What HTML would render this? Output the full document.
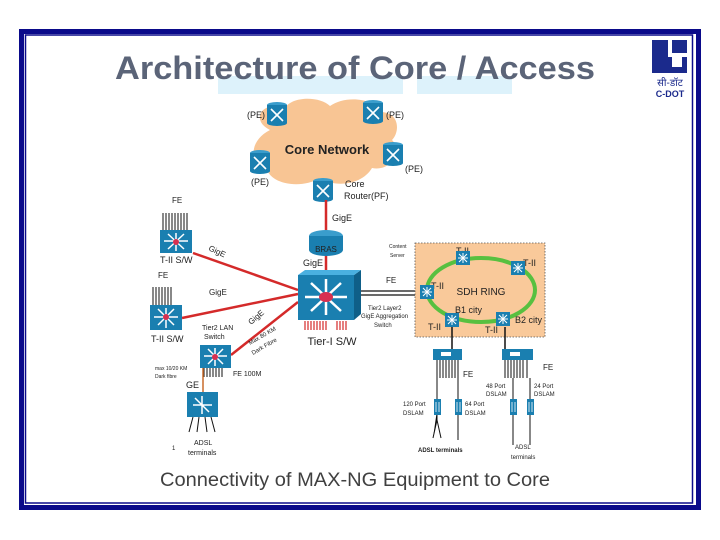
<!DOCTYPE html>
<html><head><meta charset="utf-8"><style>
html,body{margin:0;padding:0;background:#fff;width:720px;height:540px;overflow:hidden}
svg{display:block}
text{font-family:"Liberation Sans",sans-serif}
</style></head><body>
<svg width="720" height="540" viewBox="0 0 720 540" xmlns="http://www.w3.org/2000/svg">
<defs>
<g id="rt"><ellipse cx="0" cy="-8" rx="10" ry="3" fill="#3a9dcc"/><rect x="-10" y="-8" width="20" height="18" fill="#1a7fb0"/><ellipse cx="0" cy="10" rx="10" ry="3" fill="#1a7fb0"/><path d="M-6,-4 L6,8 M6,-4 L-6,8" stroke="#fff" stroke-width="1.6"/></g>
<g id="sw"><rect x="-7" y="-7" width="14" height="14" fill="#1a7fb0"/><path d="M-5,0 H5 M0,-5 V5 M-4,-4 L4,4 M4,-4 L-4,4" stroke="#fff" stroke-width="1"/></g>
<g id="ds"><rect x="-3" y="-8" width="7" height="16" fill="#1a7fb0"/><path d="M-1,-5 V5 M2,-5 V5" stroke="#fff" stroke-width="0.8"/></g>
</defs>
<!-- frame -->
<rect x="21.5" y="31.5" width="677" height="476" fill="none" stroke="#0a0a8a" stroke-width="5"/>
<rect x="25.5" y="35" width="667" height="468" fill="none" stroke="#0a0a8a" stroke-width="1.5"/>
<!-- title -->
<rect x="218" y="76" width="185" height="18" fill="#ddf2fb"/>
<rect x="417" y="76" width="95" height="18" fill="#ddf2fb"/>
<text x="115" y="79" font-size="32" font-weight="bold" fill="#5b6478" textLength="480" lengthAdjust="spacingAndGlyphs">Architecture of Core / Access</text>
<!-- logo -->
<rect x="652" y="40" width="35" height="33" fill="#1b2a8c"/>
<rect x="668" y="40" width="4" height="17" fill="#fff"/><rect x="672" y="53" width="15" height="4" fill="#fff"/>
<rect x="672" y="57" width="10" height="10" fill="#fff"/>
<text x="670" y="86" font-size="10" fill="#1b2a8c" text-anchor="middle" font-family="Liberation Serif,serif">सी-डॉट</text>
<text x="670" y="97" font-size="9" font-weight="bold" fill="#1b2a8c" text-anchor="middle" font-family="Liberation Serif,serif">C-DOT</text>
<!-- cloud -->
<path d="M270,130 C250,120 262,100 285,108 C292,96 320,96 330,106 C345,95 375,98 380,112 C400,112 400,132 392,140 C402,150 392,172 372,168 C362,185 335,188 320,178 C300,190 268,184 266,166 C248,162 250,140 270,130 Z" fill="#f8c594"/>
<text x="327" y="154" font-size="13" font-weight="bold" fill="#222" text-anchor="middle">Core Network</text>
<use href="#rt" x="277" y="113"/><use href="#rt" x="373" y="111"/>
<use href="#rt" x="260" y="161"/><use href="#rt" x="393" y="153"/>
<use href="#rt" x="323" y="189"/>
<g font-size="9" fill="#222">
<text x="247" y="118">(PE)</text><text x="386" y="118">(PE)</text>
<text x="251" y="185">(PE)</text><text x="405" y="172">(PE)</text>
<text x="345" y="187">Core</text><text x="344" y="199">Router(PF)</text>
<text x="332" y="221">GigE</text><text x="303" y="266">GigE</text>
</g>
<!-- red links -->
<g stroke="#d42a2a" stroke-width="2.5">
<line x1="326" y1="200" x2="326" y2="232"/><line x1="326" y1="255" x2="326" y2="275"/>
<line x1="193" y1="253" x2="298" y2="290"/><line x1="182" y1="318" x2="298" y2="294"/>
<line x1="231" y1="355" x2="298" y2="302"/>
</g>
<!-- BRAS -->
<ellipse cx="326" cy="236" rx="17" ry="6" fill="#3a9dcc"/><rect x="309" y="236" width="34" height="14" fill="#1a7fb0"/><ellipse cx="326" cy="250" rx="17" ry="6" fill="#1a7fb0"/>
<text x="326" y="252" font-size="8" fill="#222" text-anchor="middle">BRAS</text>
<!-- Tier-I -->
<rect x="298" y="275" width="56" height="45" fill="#1a7fb0"/><path d="M354,275 L361,270 L361,314 L354,320Z" fill="#0f5f88"/><path d="M298,275 L305,270 L361,270 L354,275Z" fill="#4ab0e0"/>
<path d="M305,297 H347 M326,279 V315 M311,283 L341,311 M341,283 L311,311" stroke="#fff" stroke-width="2.5"/>
<ellipse cx="326" cy="297" rx="7" ry="5" fill="#d83050"/>
<g stroke="#d42a2a" stroke-width="1.2"><path d="M305,321v9M308,321v9M311,321v9M314,321v9M317,321v9M320,321v9M323,321v9M326,321v9M337,321v9M340,321v9M343,321v9M346,321v9"/></g>
<text x="332" y="345" font-size="11" fill="#222" text-anchor="middle">Tier-I S/W</text>
<!-- T-II switches -->
<g stroke="#111" stroke-width="1"><path d="M163,213v17M166,213v17M169,213v17M172,213v17M175,213v17M178,213v17M181,213v17M184,213v17M187,213v17"/>
<path d="M153,287v18M156,287v18M159,287v18M162,287v18M165,287v18M168,287v18M171,287v18"/>
<path d="M204,368v9M207,368v9M210,368v9M213,368v9M216,368v9M219,368v9M222,368v9"/></g>
<rect x="160" y="230" width="32" height="23" fill="#1a7fb0"/><path d="M164,241H188M176,233V251M168,234L184,249M184,234L168,249" stroke="#fff" stroke-width="1.5"/><circle cx="176" cy="242" r="3" fill="#d83050"/>
<rect x="150" y="305" width="32" height="25" fill="#1a7fb0"/><path d="M154,317H178M166,308V328M158,309L174,325M174,309L158,325" stroke="#fff" stroke-width="1.5"/><circle cx="166" cy="317" r="3" fill="#d83050"/>
<rect x="200" y="345" width="31" height="23" fill="#1a7fb0"/><path d="M204,356H227M215,348V366M208,349L223,364M223,349L208,364" stroke="#fff" stroke-width="1.5"/><circle cx="215" cy="357" r="3" fill="#d83050"/>
<line x1="203" y1="368" x2="203" y2="392" stroke="#c86a2a" stroke-width="1.5"/>
<rect x="187" y="392" width="31" height="25" fill="#1a7fb0"/><path d="M193,405H212M202,396V414M195,398L209,412" stroke="#fff" stroke-width="1.5"/>
<g stroke="#111"><path d="M193,417l-4,15M199,417l-2,15M205,417l2,15M211,417l4,15"/></g>
<g font-size="8" fill="#222">
<text x="172" y="203">FE</text><text x="158" y="278">FE</text>
<text x="160" y="263" font-size="9">T-II S/W</text><text x="151" y="342" font-size="9">T-II S/W</text>
<text x="202" y="330" font-size="7">Tier2 LAN</text><text x="204" y="339" font-size="7">Switch</text>
<text x="233" y="376" font-size="7">FE 100M</text>
<text x="155" y="370" font-size="5">max 10/20 KM</text><text x="155" y="378" font-size="5">Dark fibre</text>
<text x="186" y="388" font-size="9">GE</text>
<text x="194" y="445" font-size="7">ADSL</text><text x="188" y="455" font-size="7">terminals</text>
<text x="172" y="450" font-size="6">1</text>
<text x="208" y="250" transform="rotate(25 208 250)">GigE</text>
<text x="209" y="295">GigE</text>
<text x="251" y="325" transform="rotate(-40 251 325)">GigE</text>
<text x="250" y="345" font-size="6" transform="rotate(-30 250 345)">Max 80 KM</text>
<text x="253" y="355" font-size="6" transform="rotate(-30 253 355)">Dark Fibre</text>
</g>
<!-- FE double line -->
<g stroke="#111" stroke-width="1.3"><line x1="361" y1="291" x2="427" y2="291"/><line x1="361" y1="295" x2="427" y2="295"/></g>
<g font-size="8" fill="#222">
<text x="386" y="283">FE</text>
<text x="368" y="310" font-size="6">Tier2 Layer2</text><text x="361" y="318" font-size="6">GigE Aggregation</text><text x="374" y="327" font-size="6">Switch</text>
<text x="389" y="248" font-size="5">Content</text><text x="390" y="257" font-size="5">Server</text>
</g>
<!-- SDH box -->
<rect x="415" y="243" width="130" height="94" fill="#f9c99a" stroke="#555" stroke-dasharray="1.5,1.5" stroke-width="0.8"/>
<ellipse cx="481" cy="290" rx="54" ry="32" fill="none" stroke="#58c040" stroke-width="4"/>
<g font-size="9" fill="#222">
<text x="481" y="295" text-anchor="middle" font-size="10">SDH RING</text>
<text x="455" y="313">B1 city</text><text x="515" y="323">B2 city</text>
<text x="456" y="254">T-II</text><text x="523" y="266">T-II</text><text x="431" y="289">T-II</text>
<text x="428" y="330">T-II</text><text x="485" y="333">T-II</text>
</g>
<use href="#sw" x="463" y="258"/><use href="#sw" x="518" y="268"/><use href="#sw" x="427" y="292"/>
<use href="#sw" x="452" y="320"/><use href="#sw" x="503" y="319"/>
<g stroke="#111" stroke-width="1.5"><line x1="452" y1="327" x2="452" y2="349"/><line x1="505" y1="327" x2="505" y2="349"/></g>
<!-- DSLAM aggregators -->
<rect x="433" y="349" width="29" height="11" fill="#1a7fb0"/><rect x="441" y="352" width="10" height="4" fill="#fff"/>
<rect x="502" y="349" width="31" height="11" fill="#1a7fb0"/><rect x="510" y="352" width="10" height="4" fill="#fff"/>
<g stroke="#111" stroke-width="1">
<path d="M437,360v18M440,360v18M443,360v18M446,360v18M449,360v18M452,360v18M455,360v18M458,360v18"/>
<path d="M505,360v18M508,360v18M511,360v18M514,360v18M517,360v18M520,360v18M523,360v18M527,360v18"/>
<path d="M437,378V402M458,378V402M513,378V402M530,378V402"/>
<path d="M437,410V420l-4,18M437,420l4,18M458,410V440M513,410V445M530,410V445"/>
</g>
<use href="#ds" x="437" y="407"/><use href="#ds" x="458" y="407"/><use href="#ds" x="513" y="407"/><use href="#ds" x="530" y="407"/>
<g font-size="6" fill="#222">
<text x="463" y="377" font-size="8">FE</text><text x="543" y="370" font-size="8">FE</text>
<text x="403" y="406">120 Port</text><text x="403" y="415">DSLAM</text>
<text x="465" y="406">64 Port</text><text x="465" y="415">DSLAM</text>
<text x="486" y="388">48 Port</text><text x="486" y="396">DSLAM</text>
<text x="534" y="388">24 Port</text><text x="534" y="396">DSLAM</text>
<text x="418" y="452" font-weight="bold">ADSL terminals</text>
<text x="515" y="449">ADSL</text><text x="511" y="459">terminals</text>
</g>
<text x="160" y="486" font-size="19" fill="#404040" textLength="390" lengthAdjust="spacingAndGlyphs">Connectivity of MAX-NG Equipment to Core</text>
</svg>
</body></html>
